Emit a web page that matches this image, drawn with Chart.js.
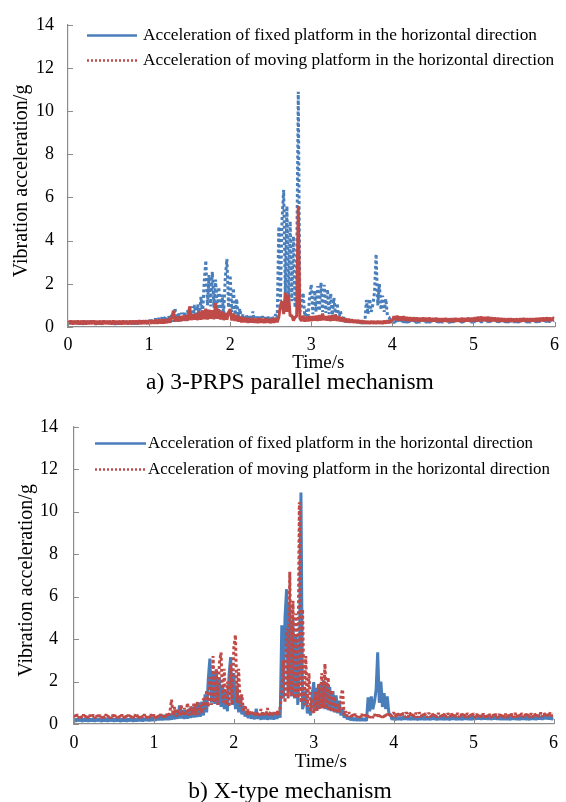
<!DOCTYPE html>
<html>
<head>
<meta charset="utf-8">
<script src="https://cdn.jsdelivr.net/npm/chart.js@4.4.1/dist/chart.umd.min.js"></script>
<style>
  html, body { margin: 0; padding: 0; background: #fff; }
  body { width: 566px; height: 802px; position: relative; overflow: hidden;
         font-family: "Liberation Serif", "Times New Roman", serif; }
  .panel { position: absolute; left: 0; width: 566px; height: 374px; }
  .caption { position: absolute; left: 0; width: 580px; text-align: center;
             font-size: 23.5px; line-height: 1; color: #000; }
</style>
</head>
<body>
<div class="panel" style="top:0"><canvas id="chart-a" width="566" height="374"></canvas></div>
<div class="caption" style="top:370px">a) 3-PRPS parallel mechanism</div>
<div class="panel" style="top:400px"><canvas id="chart-b" width="566" height="374"></canvas></div>
<div class="caption" style="top:779px">b) X-type mechanism</div>

<script>
// samples every 0.02 s, 0 .. 6 s (rows of 10 = 0.2 s)
const SAMPLE_STEP = 0.02;

// horizontal acceleration of the fixed platform (g) - same record in both panels
const FIXED_PLATFORM = [
  0.26,0.12,0.24,0.14,0.27,0.11,0.25,0.13,0.26,0.12,
  0.25,0.13,0.27,0.12,0.24,0.14,0.26,0.11,0.25,0.13,
  0.27,0.12,0.25,0.14,0.26,0.12,0.24,0.13,0.27,0.11,
  0.25,0.13,0.26,0.12,0.24,0.14,0.27,0.12,0.25,0.13,
  0.26,0.14,0.28,0.13,0.27,0.15,0.29,0.14,0.30,0.15,
  0.33,0.16,0.36,0.18,0.40,0.17,0.42,0.19,0.45,0.18,
  0.48,0.20,0.52,0.22,0.62,0.24,0.88,0.26,0.66,0.24,
  0.66,0.25,0.72,0.28,0.82,0.30,0.95,0.32,1.02,0.34,
  1.05,0.40,1.40,0.55,2.10,3.08,1.00,2.40,0.95,2.56,
  0.90,2.20,0.80,1.85,0.70,1.50,0.60,2.30,3.15,0.90,
  2.40,0.70,1.80,0.55,1.30,0.45,0.85,0.35,0.60,0.28,
  0.55,0.25,0.50,0.22,0.72,0.24,0.48,0.20,0.55,0.22,
  0.50,0.20,0.45,0.22,0.52,0.21,0.48,0.24,0.60,0.30,
  4.65,1.20,5.00,6.35,1.50,5.60,1.30,4.90,1.20,4.20,
  0.90,2.60,10.90,0.70,1.00,1.58,0.50,0.80,0.40,1.40,
  1.97,0.60,1.70,0.70,1.90,0.75,2.06,0.70,1.95,0.65,
  1.75,0.60,1.55,0.55,1.35,0.50,1.10,0.40,0.75,0.30,
  0.45,0.22,0.35,0.18,0.30,0.17,0.28,0.16,0.27,0.15,
  0.28,0.16,0.26,0.15,1.25,0.60,1.30,0.70,1.05,1.60,
  3.38,1.00,2.00,0.80,1.45,0.70,1.30,0.50,0.45,0.20,
  0.32,0.18,0.34,0.20,0.33,0.19,0.35,0.21,0.34,0.20,
  0.33,0.19,0.35,0.20,0.34,0.18,0.33,0.20,0.35,0.19,
  0.34,0.20,0.33,0.19,0.35,0.21,0.34,0.18,0.33,0.20,
  0.35,0.19,0.34,0.20,0.33,0.18,0.34,0.21,0.35,0.19,
  0.33,0.20,0.34,0.19,0.36,0.21,0.35,0.20,0.34,0.19,
  0.36,0.21,0.38,0.22,0.37,0.20,0.39,0.22,0.36,0.21,
  0.37,0.20,0.36,0.22,0.38,0.21,0.35,0.20,0.36,0.19,
  0.35,0.20,0.34,0.19,0.36,0.21,0.35,0.20,0.34,0.19,
  0.35,0.21,0.36,0.20,0.34,0.19,0.36,0.21,0.35,0.20,
  0.36,0.22,0.37,0.21,0.38,0.23,0.36,0.22,0.37,0.21,
  0.30
];

// moving platform, 3-PRPS parallel mechanism (g)
const MOVING_PRPS = [
  0.29,0.13,0.30,0.12,0.28,0.14,0.30,0.12,0.29,0.13,
  0.30,0.12,0.28,0.13,0.29,0.14,0.30,0.12,0.28,0.13,
  0.29,0.12,0.30,0.14,0.28,0.13,0.29,0.12,0.30,0.13,
  0.28,0.14,0.29,0.12,0.30,0.13,0.28,0.12,0.29,0.14,
  0.30,0.13,0.29,0.14,0.31,0.13,0.30,0.15,0.31,0.14,
  0.30,0.15,0.32,0.16,0.33,0.15,0.34,0.17,0.35,0.16,
  0.36,0.18,0.40,0.20,0.45,0.76,0.25,0.48,0.26,0.50,
  0.28,0.52,0.30,0.55,0.30,0.95,0.32,0.60,0.34,0.62,
  0.32,0.72,0.34,0.76,0.36,0.85,0.35,0.80,0.38,0.78,
  0.36,1.10,0.38,0.82,0.35,0.72,0.32,0.66,0.34,0.68,
  0.82,0.30,0.62,0.28,0.55,0.25,0.48,0.22,0.45,0.22,
  0.42,0.20,0.40,0.21,0.42,0.20,0.38,0.19,0.40,0.20,
  0.38,0.19,0.40,0.20,0.36,0.18,0.40,0.20,0.42,0.22,
  0.45,1.00,1.20,0.60,1.58,0.70,1.50,0.50,0.55,0.30,
  0.45,0.50,5.60,0.40,0.28,0.52,0.25,0.48,0.26,0.50,
  0.28,0.50,0.30,0.52,0.29,0.55,0.30,0.62,0.32,0.50,
  0.30,0.52,0.28,0.55,0.30,0.56,0.28,0.50,0.26,0.45,
  0.25,0.40,0.22,0.38,0.20,0.35,0.20,0.33,0.19,0.32,
  0.18,0.30,0.17,0.28,0.16,0.27,0.15,0.28,0.16,0.27,
  0.15,0.28,0.16,0.27,0.15,0.29,0.17,0.30,0.18,0.32,
  0.30,0.50,0.32,0.52,0.30,0.48,0.31,0.50,0.29,0.46,
  0.28,0.45,0.27,0.44,0.28,0.43,0.26,0.42,0.27,0.44,
  0.26,0.42,0.27,0.43,0.25,0.41,0.26,0.42,0.25,0.40,
  0.24,0.40,0.25,0.41,0.24,0.39,0.25,0.40,0.24,0.41,
  0.25,0.40,0.24,0.42,0.25,0.41,0.26,0.43,0.25,0.42,
  0.27,0.45,0.26,0.47,0.28,0.48,0.27,0.46,0.28,0.47,
  0.26,0.45,0.27,0.44,0.25,0.42,0.26,0.41,0.25,0.40,
  0.24,0.39,0.25,0.40,0.24,0.38,0.25,0.39,0.24,0.40,
  0.25,0.41,0.26,0.40,0.25,0.39,0.26,0.40,0.25,0.41,
  0.27,0.42,0.28,0.43,0.27,0.44,0.28,0.43,0.29,0.42,
  0.40
];

// moving platform, X-type mechanism (g)
const MOVING_XTYPE = [
  0.44,0.27,0.45,0.28,0.43,0.26,0.44,0.28,0.45,0.27,
  0.43,0.28,0.44,0.27,0.45,0.26,0.43,0.28,0.44,0.27,
  0.45,0.28,0.43,0.27,0.44,0.26,0.45,0.28,0.43,0.27,
  0.44,0.26,0.45,0.28,0.43,0.27,0.44,0.28,0.45,0.26,
  0.43,0.28,0.44,0.27,0.45,0.28,0.44,0.29,0.45,0.28,
  0.44,0.28,0.45,0.29,0.46,0.30,0.47,0.31,0.48,0.32,
  0.55,1.15,0.40,0.80,0.35,0.70,0.38,0.90,0.40,0.75,
  0.42,1.00,0.40,0.85,0.45,0.95,0.42,1.05,0.45,0.90,
  0.50,1.20,0.70,1.60,0.80,2.20,0.90,3.20,1.00,2.60,
  0.90,2.90,3.37,1.00,2.60,0.90,2.00,0.80,2.80,0.90,
  3.60,4.20,1.00,2.60,0.80,1.40,0.60,0.90,0.45,0.70,
  0.40,0.65,0.38,0.60,0.35,0.55,0.40,0.70,0.35,0.60,
  0.38,0.75,0.36,0.60,0.40,0.55,0.38,0.65,0.40,0.80,
  1.50,3.00,1.00,4.50,1.20,7.17,1.30,5.80,1.20,5.20,
  1.20,10.45,1.00,5.40,0.90,3.20,0.80,2.40,0.60,1.20,
  0.50,1.50,0.60,1.90,0.70,2.40,0.75,2.84,0.70,2.20,
  0.60,1.60,0.55,1.30,0.50,1.00,0.55,1.30,1.64,0.40,
  0.60,0.35,0.55,0.32,0.50,0.30,0.48,0.32,0.45,0.30,
  0.46,0.30,0.44,0.31,0.45,0.30,0.43,0.29,0.46,0.30,
  0.44,0.31,0.46,0.30,0.45,0.32,0.48,0.33,0.50,0.34,
  0.55,0.33,0.54,0.32,0.56,0.34,0.53,0.33,0.55,0.32,
  0.54,0.33,0.52,0.32,0.53,0.31,0.55,0.33,0.52,0.32,
  0.51,0.31,0.53,0.32,0.52,0.30,0.50,0.31,0.52,0.32,
  0.50,0.30,0.52,0.31,0.51,0.32,0.53,0.30,0.51,0.31,
  0.52,0.32,0.50,0.31,0.52,0.30,0.51,0.32,0.50,0.31,
  0.50,0.30,0.48,0.29,0.50,0.31,0.49,0.30,0.48,0.29,
  0.47,0.29,0.49,0.30,0.48,0.28,0.47,0.29,0.49,0.30,
  0.48,0.29,0.50,0.30,0.49,0.31,0.52,0.30,0.50,0.31,
  0.51,0.32,0.50,0.31,0.52,0.30,0.50,0.31,0.51,0.30,
  0.52,0.33,0.54,0.34,0.53,0.32,0.55,0.34,0.56,0.35,
  0.50
];

const SERIES_LABELS = [
  'Acceleration of fixed platform in the horizontal direction',
  'Acceleration of moving platform in the horizontal direction'
];
const X_TICKS = [0, 1, 2, 3, 4, 5, 6];
const Y_TICKS = [0, 2, 4, 6, 8, 10, 12, 14];

const BLUE = '#4A7EBB';
const RED = '#BE4B48';
const AXIS_COLOR = '#8C8C8C';
const SERIF = '"Liberation Serif", "Times New Roman", serif';
const DOTS = [3, 2.5];

const TIME = FIXED_PLATFORM.map((_, i) => +(i * SAMPLE_STEP).toFixed(2));
const toPoints = vals => vals.map((v, i) => ({ x: TIME[i], y: v }));

// short tick marks pointing into the plot, like the original spreadsheet axes
const innerTicks = {
  id: 'innerTicks',
  afterDraw(chart) {
    const { ctx, chartArea, scales: { x, y } } = chart;
    ctx.save();
    ctx.strokeStyle = AXIS_COLOR;
    ctx.lineWidth = 1;
    ctx.beginPath();
    Y_TICKS.forEach(v => {
      const py = Math.round(y.getPixelForValue(v)) + 0.5;
      ctx.moveTo(chartArea.left, py);
      ctx.lineTo(chartArea.left + 5, py);
    });
    X_TICKS.forEach(v => {
      const px = Math.round(x.getPixelForValue(v)) + 0.5;
      ctx.moveTo(px, chartArea.bottom);
      ctx.lineTo(px, chartArea.bottom - 5);
    });
    ctx.stroke();
    ctx.restore();
  }
};

// two-row line legend sitting inside the plot area
function lineLegend(items, pos) {
  return {
    id: 'lineLegend',
    afterDraw(chart) {
      const { ctx, chartArea } = chart;
      items.forEach((item, i) => {
        const yy = Math.round(chartArea.top + pos.firstRow + i * pos.rowGap) + 0.5;
        ctx.save();
        ctx.strokeStyle = item.color;
        ctx.lineWidth = item.width;
        ctx.setLineDash(item.dash);
        ctx.beginPath();
        ctx.moveTo(chartArea.left + pos.lineStart, yy);
        ctx.lineTo(chartArea.left + pos.lineEnd, yy);
        ctx.stroke();
        ctx.setLineDash([]);
        ctx.fillStyle = '#000';
        ctx.font = pos.fontSize + 'px ' + SERIF;
        ctx.textBaseline = 'middle';
        ctx.fillText(item.text, chartArea.left + pos.textStart, yy);
        ctx.restore();
      });
    }
  };
}

function makeChart(id, cfg) {
  const tickFont = { family: SERIF, size: 18 };
  return new Chart(document.getElementById(id), {
    type: 'line',
    data: { datasets: cfg.datasets },
    options: {
      responsive: false,
      animation: false,
      parsing: false,
      normalized: true,
      layout: { padding: cfg.padding },
      elements: { point: { radius: 0 }, line: { tension: 0, borderJoinStyle: 'bevel', borderCapStyle: 'butt' } },
      plugins: { legend: { display: false }, tooltip: { enabled: false } },
      scales: {
        x: {
          type: 'linear', min: 0, max: 6,
          grid: { display: false, drawTicks: false },
          border: { color: AXIS_COLOR, width: 1.2 },
          afterBuildTicks: s => { s.ticks = X_TICKS.map(v => ({ value: v })); },
          ticks: { padding: cfg.xTickPad, color: '#000', font: tickFont, maxRotation: 0 },
          // leading spaces nudge the title a little right of the axis centre
          title: { display: true, text: '   Time/s', color: '#000',
                   font: { family: SERIF, size: 19 }, padding: { top: 0, bottom: cfg.xTitlePad } },
          afterFit: s => { s.height = cfg.xHeight; }
        },
        y: {
          type: 'linear', min: 0, max: 14,
          grid: { display: false, drawTicks: false },
          border: { color: AXIS_COLOR, width: 1.2 },
          afterBuildTicks: s => { s.ticks = Y_TICKS.map(v => ({ value: v })); },
          ticks: { padding: cfg.yTickPad, color: '#000', font: tickFont },
          title: { display: true, text: 'Vibration acceleration/g  ', color: '#000',
                   font: { family: SERIF, size: 20 }, padding: { top: cfg.yTitlePad, bottom: 0 } },
          afterFit: s => { s.width = cfg.yWidth; }
        }
      }
    },
    plugins: [innerTicks, lineLegend(cfg.legend, cfg.legendPos)]
  });
}

// a) 3-PRPS: fixed platform drawn dotted, moving platform solid
makeChart('chart-a', {
  padding: { top: 15, right: 8, left: 0, bottom: 0 },
  xHeight: 47, yWidth: 68, xTickPad: 7, xTitlePad: 0, yTickPad: 14, yTitlePad: 10,
  datasets: [
    { label: SERIES_LABELS[1], data: toPoints(MOVING_PRPS), borderColor: RED, borderWidth: 3, order: 0 },
    { label: SERIES_LABELS[0], data: toPoints(FIXED_PLATFORM), borderColor: BLUE, borderWidth: 3, borderDash: DOTS, order: 1 }
  ],
  legend: [
    { text: SERIES_LABELS[0], color: BLUE, width: 2.5, dash: [] },
    { text: SERIES_LABELS[1], color: RED, width: 2.5, dash: [2, 2] }
  ],
  legendPos: { firstRow: 10, rowGap: 25, lineStart: 19, lineEnd: 69, textStart: 75, fontSize: 17.3 }
});

// b) X-type: fixed platform solid, moving platform dotted
makeChart('chart-b', {
  padding: { top: 17, right: 10, left: 0, bottom: 0 },
  xHeight: 50, yWidth: 74, xTickPad: 8, xTitlePad: 1, yTickPad: 16, yTitlePad: 15,
  datasets: [
    { label: SERIES_LABELS[1], data: toPoints(MOVING_XTYPE), borderColor: RED, borderWidth: 3, borderDash: DOTS, order: 0 },
    { label: SERIES_LABELS[0], data: toPoints(FIXED_PLATFORM), borderColor: BLUE, borderWidth: 3, order: 1 }
  ],
  legend: [
    { text: SERIES_LABELS[0], color: BLUE, width: 2.5, dash: [] },
    { text: SERIES_LABELS[1], color: RED, width: 2.5, dash: [2, 2] }
  ],
  legendPos: { firstRow: 16, rowGap: 26, lineStart: 21, lineEnd: 72, textStart: 74, fontSize: 16.9 }
});
</script>
</body>
</html>
